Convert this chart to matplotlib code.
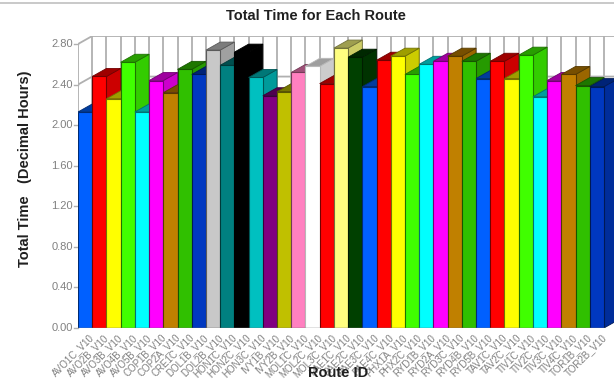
import matplotlib
matplotlib.use('Agg')
import matplotlib.pyplot as plt

routes = ['AVO1C', 'AVO2B', 'AVO3B', 'AVO4B', 'AVO5B', 'COP1B', 'COP2A', 'CRE1C', 'DOL1B', 'DOL2B',
          'HON1C', 'HON2C', 'HON3C', 'IVY1B', 'IVY2B', 'MOL1C', 'MOL2C', 'MOL3C', 'PAE1C', 'PAE2C',
          'PAE3C', 'PAE4C', 'PHX1A', 'PHX2C', 'RYD1B', 'RYD2A', 'RYD3C', 'RYD4B', 'RYD5B', 'TAV1C',
          'TAV2C', 'TIV1C', 'TIV2C', 'TIV3C', 'TIV4C', 'TOR1B', 'TOR2B']
labels = [r + '_V10' for r in routes]
values = [2.13, 2.48, 2.26, 2.62, 2.13, 2.44, 2.32, 2.55, 2.50, 2.74,
          2.59, 2.72, 2.47, 2.29, 2.33, 2.52, 2.58, 2.41, 2.76, 2.67,
          2.38, 2.64, 2.68, 2.50, 2.60, 2.63, 2.68, 2.63, 2.46, 2.63,
          2.46, 2.69, 2.28, 2.44, 2.50, 2.39, 2.38]
colors = ['#0060ff', '#ff0000', '#ffff00', '#40ff00', '#00ffff', '#ff00ff', '#c08000', '#30c000', '#0038c0',
          '#c8c8c8', '#008080', '#000000', '#00c0c0', '#800080', '#c0c000', '#ff80c0', '#ffffff', '#ff0000',
          '#ffff80', '#004000', '#0060ff', '#ff0000', '#ffff00', '#40ff00', '#00ffff', '#ff00ff', '#c08000',
          '#30c000', '#0060ff', '#ff0000', '#ffff00', '#40ff00', '#00ffff', '#ff00ff', '#c08000', '#30c000',
          '#0038c0']
yticks = [0, 0.4, 0.8, 1.2, 1.6, 2.0, 2.4, 2.8]

plt.rcParams['font.family'] = ['Liberation Sans', 'DejaVu Sans']

W, H = 614, 382
fig = plt.figure(figsize=(W / 100, H / 100), dpi=100)
# axes cover the front plane plus the depth of the 3D box, the last side runs off the image
bar_px = (604 - 78) / len(values)
ax = fig.add_axes([78 / W, 1 - 328 / H, (604 + bar_px - 78) / W, (328 - 36) / H])
dx = 1.0
dy = 8 / 101.2
n = len(values)
ax.set_xlim(-0.5, n - 0.5 + dx)
ax.set_ylim(0, 2.8 + dy)
ax.axis('off')
ax.patch.set_visible(False)


def shade(c, f):
    rgb = matplotlib.colors.to_rgb(c)
    return tuple(v * f for v in rgb)


# walls
wall = '#b0b0b0'
left = -0.5
right = n - 0.5
for t in yticks:
    ax.plot([left, left + dx, right + dx], [t, t + dy, t + dy], color=wall, lw=1.3, zorder=1)
    ax.plot([left - 0.25, left], [t, t], color=wall, lw=1, zorder=1, clip_on=False)
for i in range(n + 1):
    ax.plot([left + i + dx] * 2, [dy, 2.8 + dy], color=wall, lw=1.3, zorder=1)
ax.plot([left, left], [0, 2.8], color=wall, lw=1.3, zorder=1)

# bars, left to right so each covers the side of the one before
for i, (v, c) in enumerate(zip(values, colors)):
    x0, x1 = i - 0.5, i + 0.5
    z = 2 + i
    edge = shade(c, 0.45) if c != '#ffffff' else '#b8b8b8'
    ax.fill([x1, x1 + dx, x1 + dx, x1], [0, dy, v + dy, v], color=shade(c, 0.8), ec=edge, lw=0.6, zorder=z)
    ax.fill([x0, x1, x1 + dx, x0 + dx], [v, v, v + dy, v + dy], color=shade(c, 0.62), ec=edge, lw=0.6, zorder=z)
    ax.bar(i, v, width=1, color=c, edgecolor=edge, lw=0.8, zorder=z)

ax.plot([left, right], [0, 0], color='#808080', lw=1, zorder=100)

for t in yticks:
    ax.text(left - 0.36, t, '%.2f' % t, ha='right', va='center', fontsize=8, color='#808080')
for i, lab in enumerate(labels):
    ax.annotate(lab, (i, 0), xytext=(3, -3), textcoords='offset points', rotation=45,
                ha='right', va='top', rotation_mode='anchor', fontsize=7, color='#808080')

# thin border line along the top of the image
fig.add_artist(plt.Line2D([0, 1], [1 - 3 / H, 1 - 3 / H], color='#c0c0c0', lw=1.2))

fig.text(316 / W, 1 - 16 / H, 'Total Time for Each Route', ha='center', va='center',
         fontsize=10.5, fontweight='bold', color='#202020')
fig.text(25 / W, 1 - 267 / H, 'Total Time   (Decimal Hours)', ha='center', va='bottom',
         rotation=90, fontsize=10.5, fontweight='bold', color='#202020')
fig.text(338 / W, 1 - 373 / H, 'Route ID', ha='center', va='center',
         fontsize=10.5, fontweight='bold', color='#202020', zorder=200)

fig.savefig('out.png', dpi=100)
